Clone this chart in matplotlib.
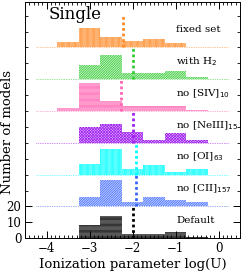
import matplotlib
matplotlib.use("Agg")
import matplotlib.pyplot as plt
from matplotlib.colors import to_rgba
from matplotlib.ticker import MultipleLocator, FixedLocator

plt.rcParams['font.family'] = ['DejaVu Serif']
plt.rcParams['hatch.linewidth'] = 0.5
plt.rcParams['axes.unicode_minus'] = True

# bins in log(U), width 0.5
bin_centers = [-3.5, -3.0, -2.5, -2.0, -1.5, -1.0, -0.5]

# counts per bin (top panel first)
fixed_set = [3.4, 12.4, 6.3, 4.2, 5.0, 2.5, 0.4]
with_h2 = [0, 8.8, 15.1, 3.8, 3.8, 5.2, 1.7]
no_siv = [1.7, 17.6, 6.3, 3.0, 3.0, 3.0, 0.7]
no_neiii = [0, 9.9, 12.0, 6.7, 1.9, 6.1, 1.9]
no_oi = [0, 6.7, 16.1, 3.6, 6.1, 1.5, 3.6]
no_cii = [0, 5.7, 16.6, 2.9, 6.1, 4.0, 2.5]
default = [0, 8.4, 14.0, 2.5, 2.5, 4.2, 0.7]

medians = [-2.22, -2.0, -2.27, -1.99, -1.93, -1.91, -2.0]
labels = ['fixed set', 'with H$_2$', 'no [SIV]$_{10}$', 'no [NeIII]$_{15}$',
          'no [OI]$_{63}$', 'no [CII]$_{157}$', 'Default']
colors = ['#ff8c2a', '#33cc33', '#ff66b3', '#a020f0', '#00ffff', '#3a66ff', 'black']
hatches = ['|' * 14, '/' * 14, '-' * 14, 'x' * 12, '|' * 14, '/' * 14, '-' * 14]
series = [fixed_set, with_h2, no_siv, no_neiii, no_oi, no_cii, default]

step = 20
n = len(series)

fig = plt.figure(figsize=(2.45, 2.79), dpi=100)
ax = fig.add_axes([0.102, 0.146, 0.878, 0.847])

for i, (vals, lab, c, h, med) in enumerate(zip(series, labels, colors, hatches, medians)):
    base = (n - 1 - i) * step
    ax.bar(bin_centers, vals, width=0.5, bottom=base,
           facecolor=to_rgba(c, 0.3), edgecolor=c, hatch=h, linewidth=0)
    if i < n - 1:
        ax.hlines(base, -4.25, 0.25, colors=c, linestyles=(0, (1, 1.5)), linewidth=0.5)
    ax.vlines(med, base, base + step, colors=c, linestyles=(0, (1, 1)), linewidth=2)
    ax.text(-0.98, base + 11, lab, fontsize=7.5, ha='left', va='center')

ax.text(-3.95, 140.5, 'Single', fontsize=12, ha='left', va='center')

ax.set_xlim(-4.5, 0.5)
ax.set_ylim(0, 148.6)
ax.xaxis.set_major_locator(MultipleLocator(1))
ax.xaxis.set_minor_locator(MultipleLocator(0.1))
ax.yaxis.set_major_locator(FixedLocator([0, 10, 20]))
ax.yaxis.set_minor_locator(MultipleLocator(10))
ax.tick_params(which='both', direction='in', top=True, right=True, labelsize=8.5)
ax.tick_params(which='major', length=5, width=0.7, pad=2.5)
ax.tick_params(which='minor', length=2.5, width=0.6)
for s in ax.spines.values():
    s.set_linewidth(0.7)

ax.set_xlabel('Ionization parameter log(U)', fontsize=9.5, labelpad=2)
ax.set_ylabel('Number of models', fontsize=9.5)
ax.yaxis.set_label_coords(-0.05, 0.45)

fig.savefig('out.png', dpi=100)
